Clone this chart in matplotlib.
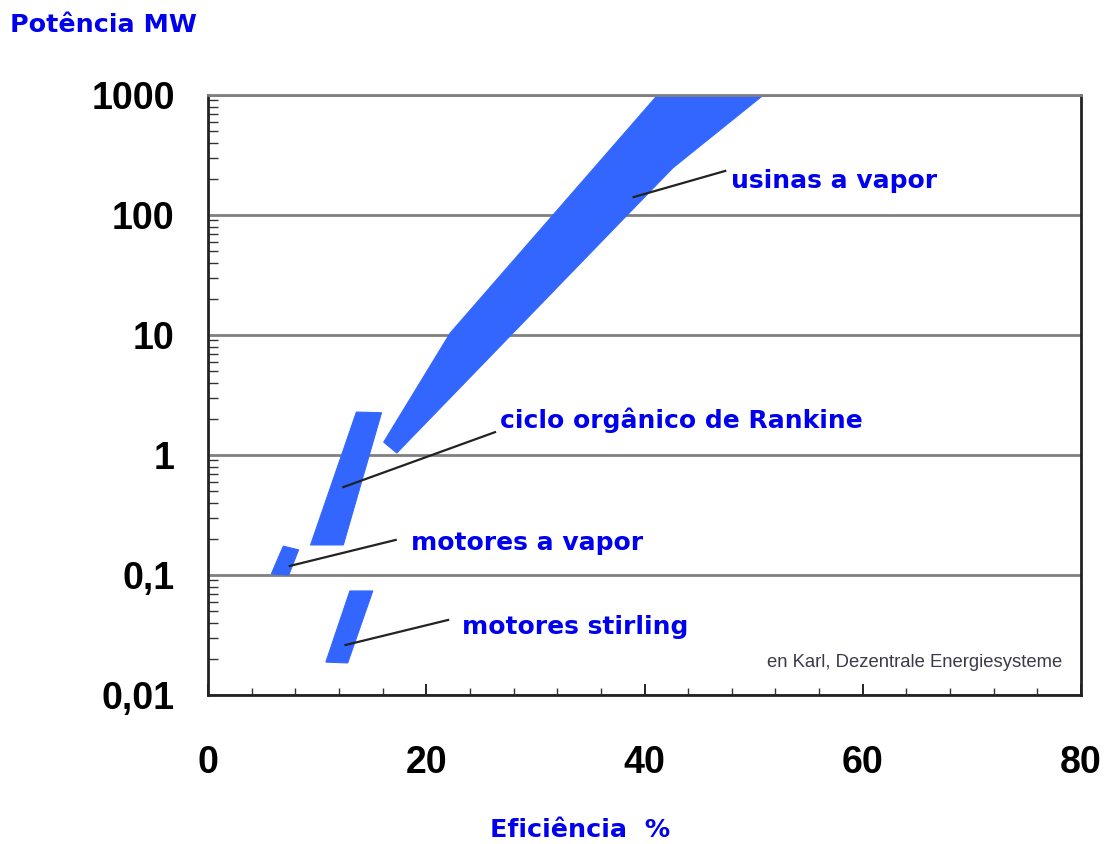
import matplotlib

matplotlib.use("Agg")
import matplotlib.pyplot as plt
from matplotlib.patches import Polygon
from matplotlib.ticker import FixedLocator, FixedFormatter, MultipleLocator, LogLocator, NullFormatter

# efficiency (%) / power (MW) outlines of each technology band
steam_x = [16.1, 22.2, 41.2, 50.9, 42.6, 17.3]
steam_y = [1.28, 10.4, 1000, 1000, 247, 1.04]
orc_x = [9.4, 13.6, 15.9, 12.4]
orc_y = [0.178, 2.28, 2.25, 0.178]
engine_x = [5.8, 6.9, 8.3, 7.4]
engine_y = [0.102, 0.174, 0.162, 0.100]
stirling_x = [10.8, 13.0, 15.1, 12.8]
stirling_y = [0.0188, 0.0736, 0.0736, 0.0185]

labels = ["usinas a vapor", "ciclo orgânico de Rankine", "motores a vapor", "motores stirling"]
tip_x = [39.0, 12.4, 7.5, 12.6]
tip_y = [141, 0.54, 0.119, 0.0261]
tail_x = [47.4, 26.3, 17.2, 22.0]
tail_y = [233, 1.55, 0.196, 0.0422]
label_x = [47.9, 26.8, 18.6, 23.3]
label_y = [192, 1.95, 0.185, 0.0369]

yticks = [0.01, 0.1, 1, 10, 100, 1000]
ytick_labels = ["0,01", "0,1", "1", "10", "100", "1000"]
xticks = [0, 20, 40, 60, 80]

BLUE_FILL = "#3366ff"
BLUE_TEXT = "#0000ee"

fig = plt.figure(figsize=(11.09, 8.44), dpi=100)
ax = fig.add_axes([208 / 1109, 1 - 695 / 844, 873 / 1109, 600 / 844])
ax.set_yscale("log")
ax.set_xlim(0, 80)
ax.set_ylim(0.01, 1000)

ax.yaxis.grid(True, which="major", color="#808080", lw=2.0, zorder=0)
ax.set_axisbelow(True)

for xs, ys in ((steam_x, steam_y), (orc_x, orc_y), (engine_x, engine_y), (stirling_x, stirling_y)):
    ax.add_patch(Polygon(list(zip(xs, ys)), closed=True, fc=BLUE_FILL, ec=BLUE_FILL, lw=0.8, zorder=2))

for i, lab in enumerate(labels):
    ax.plot([tip_x[i], tail_x[i]], [tip_y[i], tail_y[i]], color="#222222", lw=1.6, zorder=3)
    ax.text(label_x[i], label_y[i], lab, ha="left", va="center", color=BLUE_TEXT,
            fontsize=18, fontweight="bold", family="DejaVu Sans", zorder=4)

ax.text(78.3, 0.0185, "en Karl, Dezentrale Energiesysteme", ha="right", va="center",
        color="#3a3a4a", fontsize=13.3, family="Liberation Sans")

# ticks: inward, bottom/left only
ax.yaxis.set_major_locator(FixedLocator(yticks))
ax.yaxis.set_major_formatter(FixedFormatter(ytick_labels))
ax.yaxis.set_minor_locator(LogLocator(base=10, subs=range(2, 10)))
ax.yaxis.set_minor_formatter(NullFormatter())
ax.xaxis.set_major_locator(FixedLocator(xticks))
ax.xaxis.set_minor_locator(MultipleLocator(4))
ax.tick_params(axis="y", which="major", direction="in", length=0, pad=24, labelsize=27)
ax.tick_params(axis="y", which="minor", direction="in", length=7, width=1.0, color="#333333")
ax.tick_params(axis="x", which="major", direction="in", length=8, width=1.2, pad=36, labelsize=27)
ax.tick_params(axis="x", which="minor", direction="in", length=5, width=1.0, color="#333333")
for lab in ax.get_xticklabels() + ax.get_yticklabels():
    lab.set_family("Liberation Sans")
    lab.set_fontweight("bold")

for side in ("left", "bottom", "right", "top"):
    ax.spines[side].set_color("#222222")
    ax.spines[side].set_linewidth(2.0)
ax.spines["top"].set_color("#808080")

fig.text(10 / 1109, 1 - 25 / 844, "Potência MW", ha="left", va="center", color=BLUE_TEXT,
         fontsize=18.3, fontweight="bold", family="DejaVu Sans")
fig.text(490 / 1109, 1 - 830 / 844, "Eficiência  %", ha="left", va="center", color=BLUE_TEXT,
         fontsize=18.3, fontweight="bold", family="DejaVu Sans")

fig.savefig("out.png", dpi=100)
